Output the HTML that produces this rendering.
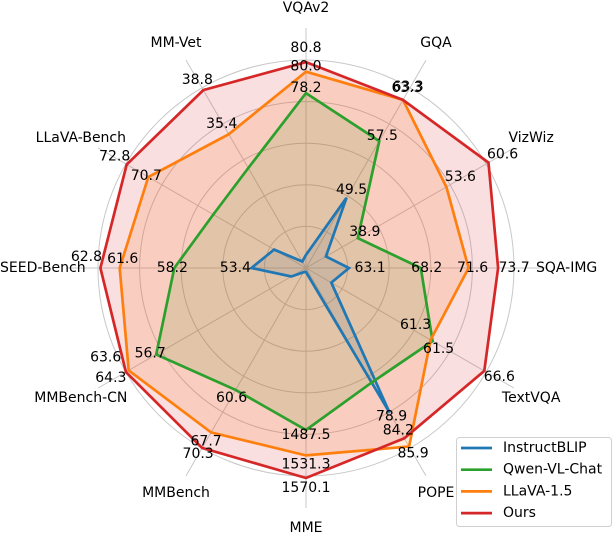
<!DOCTYPE html>
<html><head><meta charset="utf-8"><style>
html,body{margin:0;padding:0;background:#fff;}
svg{display:block;font-family:"DejaVu Sans","Liberation Sans",sans-serif;}
</style></head><body>
<svg id="chart" width="614" height="534" viewBox="0 0 614 534"></svg>
<script>
const axes = ["VQAv2","GQA","VizWiz","SQA-IMG","TextVQA","POPE","MME","MMBench","MMBench-CN","SEED-Bench","LLaVA-Bench","MM-Vet"];
const axisMin = [63.5,39.6,30.3,60.04,49.0,48.9,1208.7,40.2,19.1,50.0,55.4,25.1];
const axisFull = [80.98,65.0,60.2,74.83,66.78,86.24,1566.7,70.34,64.3,62.95,72.88,38.97];
const seriesNames = ["InstructBLIP","Qwen-VL-Chat","LLaVA-1.5","Ours"];
const instructblip = [64.6,49.5,33.6,63.1,51.5,78.9,1215.6,40.9,22.8,53.4,58.5,25.6];
const qwen = [78.2,57.5,38.9,68.2,61.5,72.6,1487.5,60.6,56.7,58.2,64.4,32.8];
const llava = [80.0,63.3,53.6,71.6,61.3,85.9,1531.3,67.7,63.6,61.6,70.7,35.4];
const ours = [80.8,63.3,60.6,73.7,66.6,84.2,1570.1,70.3,64.3,62.8,72.8,38.8];
const instructblipShow = [0,1,0,1,0,1,0,0,0,1,0,0];
const qwenShow = [1,1,1,1,1,0,1,1,1,1,0,0];
const llavaShow = [1,1,1,1,1,1,1,1,1,1,1,1];
const oursShow = [1,1,1,1,1,1,1,1,1,1,1,1];

// label offsets from the data point (styling, px)
const nudgeB = [[0,0],[5,-8],[0,0],[21,0],[0,0],[2,4],[0,0],[0,0],[0,0],[-16,0],[0,0],[0,0]];
const nudgeQ = [[0,-5],[3,-5],[7,-6],[6,0],[6,8],[0,0],[0,5],[-4,8],[-6,-1],[-2,0],[0,0],[0,0]];
const nudgeL = [[0,-5],[5,-13],[14,-10],[4,0],[-15,-15],[4,7],[0,9],[-5,9],[-23,-13],[3,-9],[-2,-1],[-7,-10]];
const nudgeO = [[0,-14],[4,-12],[14,-8],[16,0],[15,6],[-6,-8],[0,10],[-4,6],[-15,6],[-14,-11],[-12,-8],[-6,-10]];

const NS="http://www.w3.org/2000/svg";
const svg=document.getElementById('chart');
const cx=306, cy=268, R=208, spokeR=240, labelR=260;
const colors=["#1f77b4","#2ca02c","#ff7f0e","#d62728"];
const series=[instructblip,qwen,llava,ours];
const shows=[instructblipShow,qwenShow,llavaShow,oursShow];
const nudges=[nudgeB,nudgeQ,nudgeL,nudgeO];
function ang(i){return i*2*Math.PI/axes.length;}
function rScale(i,v){return Math.max(0,R*(v-axisMin[i])/(axisFull[i]-axisMin[i]));}
function pt(i,r){const a=ang(i);return [cx+r*Math.sin(a),cy-r*Math.cos(a)];}
function mk(t,attrs){const e=document.createElementNS(NS,t);for(const k in attrs)e.setAttribute(k,attrs[k]);return e;}

for(let k=1;k<=5;k++){
  const c=mk('circle',{cx:cx,cy:cy,r:R*k/5,fill:'none',stroke:'#c8c8c8','stroke-width':1});
  
  
  svg.appendChild(c);
}
axes.forEach((name,i)=>{
  const [x,y]=pt(i,spokeR);
  const l=mk('line',{x1:cx,y1:cy,x2:x,y2:y,stroke:'#c8c8c8','stroke-width':1});
  
  
  svg.appendChild(l);
  const [tx,ty]=pt(i,labelR);
  let anchor='middle', xx=tx;
  if(i===3){anchor='start'; xx=536;}
  if(i===9){anchor='start'; xx=0;}
  const t=mk('text',{x:xx,y:ty,'text-anchor':anchor,'dominant-baseline':'central','font-size':14,fill:'#000'});
  t.textContent=name;
  
  
  svg.appendChild(t);
});
const allPts=series.map(vals=>vals.map((v,i)=>pt(i,rScale(i,v))));
// fills first
allPts.forEach((pts,s)=>{
  const d=pts.map(p=>p[0].toFixed(1)+','+p[1].toFixed(1)).join(' ');
  const f=mk('polygon',{points:d,fill:colors[s],'fill-opacity':0.15,stroke:'none'});
  
  
  svg.appendChild(f);
});
// lines on top
allPts.forEach((pts,s)=>{
  const d=pts.map(p=>p[0].toFixed(1)+','+p[1].toFixed(1)).join(' ');
  const p=mk('polygon',{points:d,fill:'none',stroke:colors[s],'stroke-width':2.7,'stroke-linejoin':'miter'});
  
  
  svg.appendChild(p);
});
series.forEach((vals,s)=>{
  vals.forEach((v,i)=>{
    if(!shows[s][i])return;
    const [x,y]=allPts[s][i];
    const n=nudges[s][i];
    const t=mk('text',{x:x+n[0],y:y+n[1],'text-anchor':'middle','dominant-baseline':'central','font-size':14,fill:'#000'});
    t.textContent=v.toFixed(1);
    
    
    svg.appendChild(t);
  });
});
const lg=mk('g',{});


svg.appendChild(lg);
const box=mk('rect',{x:456.5,y:437.5,width:155,height:89,rx:3,fill:'#fff','fill-opacity':0.8,stroke:'#d0d0d0'});


lg.appendChild(box);
seriesNames.forEach((n,s)=>{
  const y=448+s*21.7;
  const l=mk('line',{x1:461,y1:y,x2:492,y2:y,stroke:colors[s],'stroke-width':2.7});
  
  
  lg.appendChild(l);
  const t=mk('text',{x:503,y:y,'dominant-baseline':'central','font-size':14,fill:'#000'});
  t.textContent=n;
  
  
  lg.appendChild(t);
});
</script>
</body></html>
